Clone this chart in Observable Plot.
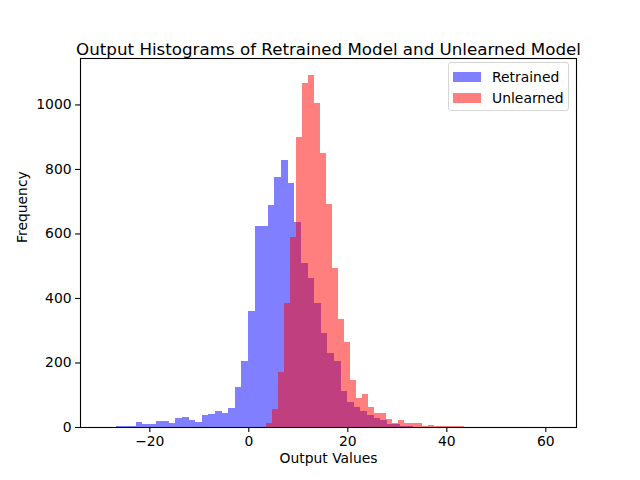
<!DOCTYPE html>
<html>
<head>
<meta charset="utf-8">
<script src="https://cdn.jsdelivr.net/npm/d3@7"></script>
<script src="https://cdn.jsdelivr.net/npm/@observablehq/plot@0.6"></script>
<style>
  html, body { margin: 0; padding: 0; background: #fff; }
  #wrap { position: relative; width: 640px; height: 480px; font-family: "DejaVu Sans", sans-serif; }
  #legend { position: absolute; left: 448px; top: 62px; width: 119px; height: 47px;
    border: 1px solid #d6d6d6; border-radius: 3px; background: rgba(255,255,255,0.8); }
  .entry { position: absolute; left: 4px; height: 14px; display: flex; align-items: center; }
  .sw { width: 28px; height: 10px; margin-right: 11px; }
  .lab { font-size: 13.9px; color: #000; }
</style>
</head>
<body>
<div id="wrap"></div>
<script>
// Retrained model histogram (blue): first bin edge, bin width, counts
const retrainedStart = -26.75;
const retrainedWidth = 1.335;
const retrainedCounts = [3, 4, 3, 16, 10, 10, 19, 19, 13, 29, 32, 23, 16, 38, 41, 50, 44, 60, 125, 205,
  360, 622, 622, 687, 774, 827, 755, 635, 508, 461, 384, 291, 229, 204, 111, 77, 62, 50, 37, 28,
  22, 9, 9, 3, 3, 1, 1];
// Unlearned model histogram (red)
const unlearnedStart = 3.58;
const unlearnedWidth = 1.212;
const unlearnedCounts = [13, 56, 171, 384, 588, 898, 1068, 1090, 1003, 851, 690, 492, 334, 263, 145,
  90, 102, 62, 43, 43, 25, 12, 22, 12, 12, 12, 3, 6, 3, 3, 3, 3, 3];

const xTicks = [-20, 0, 20, 40, 60];
const yTicks = [0, 200, 400, 600, 800, 1000];

const toBins = (start, width, counts) =>
  counts.map((c, i) => ({x1: start + i * width, x2: start + (i + 1) * width, y: c}));
const retrained = toBins(retrainedStart, retrainedWidth, retrainedCounts);
const unlearned = toBins(unlearnedStart, unlearnedWidth, unlearnedCounts);

const font = "DejaVu Sans";
const chart = Plot.plot({
  width: 640,
  height: 480,
  marginLeft: 80,
  marginRight: 64,
  marginTop: 58,
  marginBottom: 53,
  style: {fontFamily: font, fontSize: "13.9px", color: "#000", background: "#fff"},
  x: {domain: [-34, 66.2]},
  y: {domain: [0, 1144]},
  marks: [
    Plot.rectY(retrained, {x1: "x1", x2: "x2", y: "y", fill: "blue", fillOpacity: 0.5, inset: 0, shapeRendering: "crispEdges"}),
    Plot.rectY(unlearned, {x1: "x1", x2: "x2", y: "y", fill: "red", fillOpacity: 0.5, inset: 0, shapeRendering: "crispEdges"}),
    Plot.frame({stroke: "#000", strokeWidth: 1.1}),
    Plot.axisX({ticks: xTicks, tickSize: 4.9, tickPadding: 4, tickFormat: d => d < 0 ? "\u2212" + Math.abs(d) : String(d), label: null, fontSize: 13.9, strokeWidth: 1.1}),
    Plot.axisY({ticks: yTicks, tickSize: 4.9, tickPadding: 4, tickFormat: d => String(d), label: null, fontSize: 13.9, strokeWidth: 1.1}),
    Plot.text(["Output Histograms of Retrained Model and Unlearned Model"], {text: d => d, frameAnchor: "top", dy: -15, fontSize: 16.7, fill: "#000"}),
    Plot.text(["Output Values"], {text: d => d, frameAnchor: "bottom", dy: 35, fontSize: 13.9, fill: "#000"}),
    Plot.text(["Frequency"], {text: d => d, frameAnchor: "left", dx: -58, rotate: -90, fontSize: 13.9, fill: "#000"})
  ]
});
const wrap = document.getElementById("wrap");
wrap.appendChild(chart);

const legendItems = [
  {label: "Retrained", color: "rgba(0,0,255,0.5)"},
  {label: "Unlearned", color: "rgba(255,0,0,0.5)"}
];
const legend = document.createElement("div");
legend.id = "legend";
legendItems.forEach((it, i) => {
  const e = document.createElement("div");
  e.className = "entry";
  e.style.top = (7 + i * 21) + "px";
  e.innerHTML = `<div class="sw" style="background:${it.color}"></div><span class="lab">${it.label}</span>`;
  legend.appendChild(e);
});
wrap.appendChild(legend);
</script>
</body>
</html>
